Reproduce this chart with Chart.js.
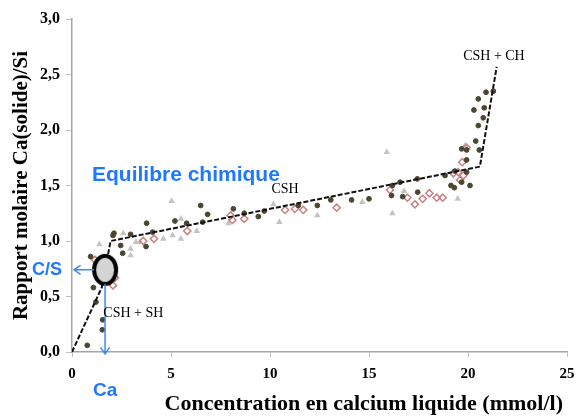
<!DOCTYPE html>
<html>
<head>
<meta charset="utf-8">
<script src="https://cdn.jsdelivr.net/npm/chart.js@4/dist/chart.umd.min.js"></script>
<style>
  html, body { margin: 0; padding: 0; background: #fff; }
  #wrap { width: 584px; height: 418px; }
</style>
</head>
<body>
<div id="wrap"><canvas id="c"></canvas></div>
<script>
// ── Données ─────────────────────────────────────────────
const xTickLabels = ['0', '5', '10', '15', '20', '25'];
const yTickLabels = ['0,0', '0,5', '1,0', '1,5', '2,0', '2,5', '3,0'];

// points noirs (ronds)
const noirsX = [0.77, 1.08, 1.21, 1.55, 1.53, 0.94, 2.07, 2.12, 2.46, 2.56, 2.96, 3.74, 3.77, 4.07, 5.2, 5.79, 6.5, 6.6, 6.85,
  8.15, 8.7, 9.41, 9.71, 11.43, 12.39, 13.07, 14.12, 15.0, 16.14, 16.18, 16.57, 16.7, 17.44, 17.46, 18.84, 19.14, 19.31,
  19.34, 19.68, 19.68, 19.93, 19.93, 19.93, 20.1, 20.39, 20.52, 20.57, 20.77, 20.3, 20.82, 20.52, 20.91, 21.28];
const noirsY = [0.06, 0.58, 0.45, 0.29, 0.20, 0.86, 1.05, 1.07, 0.96, 0.89, 1.06, 0.95, 1.16, 1.08, 1.18, 1.16, 1.32, 1.17, 1.24,
  1.29, 1.25, 1.22, 1.27, 1.32, 1.32, 1.37, 1.37, 1.38, 1.41, 1.50, 1.53, 1.40, 1.56, 1.44, 1.59, 1.50, 1.48,
  1.63, 1.53, 1.83, 1.62, 1.73, 1.82, 1.50, 1.90, 2.04, 1.82, 2.11, 2.18, 2.20, 2.28, 2.34, 2.35];

// losanges rouges (creux)
const rougesX = [1.16, 2.07, 2.17, 3.6, 4.14, 5.82, 8.01, 8.1, 8.7, 10.76, 11.26, 11.68, 13.37, 16.06, 16.94, 17.32, 17.71,
  18.05, 18.42, 18.72, 19.26, 19.51, 19.6, 19.76, 19.71, 19.93];
const rougesY = [0.83, 0.60, 0.67, 1.0, 1.02, 1.09, 1.23, 1.19, 1.20, 1.28, 1.29, 1.28, 1.30, 1.46, 1.39, 1.33, 1.38,
  1.43, 1.39, 1.39, 1.61, 1.62, 1.55, 1.59, 1.71, 1.84];

// triangles gris
const grisX = [1.38, 2.59, 2.96, 2.96, 3.23, 3.43, 4.61, 5.03, 5.08, 5.5, 5.5, 6.3, 7.9, 10.17, 10.47, 12.39, 14.66, 15.9,
  16.18, 16.77, 19.48, 19.85];
const grisY = [0.97, 1.07, 0.93, 0.87, 0.99, 0.99, 1.02, 1.36, 1.05, 1.02, 1.20, 1.09, 1.16, 1.33, 1.17, 1.23, 1.35, 1.80,
  1.25, 1.45, 1.38, 1.86];

// modèle (tirets)
const modeleX = [0, 1.5, 1.95, 20.6, 21.45];
const modeleY = [0, 0.58, 1.0, 1.67, 2.57];

// point d'équilibre (ellipse)
const equilibreX = [1.67];
const equilibreY = [0.74];

const BLEU = '#1f78ff';
const SERIF = "'Liberation Serif', 'Times New Roman', serif";
const SANS = "'Liberation Sans', Arial, sans-serif";

const zip = (xs, ys) => xs.map((x, i) => ({ x, y: ys[i] }));

// ── Ellipse grise comme pointStyle ───────────────────────
function makeEllipse() {
  const c = document.createElement('canvas');
  c.width = 28; c.height = 34;
  const g = c.getContext('2d');
  g.beginPath();
  g.ellipse(14, 17, 11, 14, 0, 0, Math.PI * 2);
  g.fillStyle = '#d4d4d4';
  g.fill();
  g.lineWidth = 4;
  g.strokeStyle = '#000';
  g.stroke();
  return c;
}

function fleche(ctx, x1, y1, x2, y2) {
  const a = Math.atan2(y2 - y1, x2 - x1);
  const L = 8, w = 0.6;
  ctx.beginPath();
  ctx.moveTo(x1, y1); ctx.lineTo(x2, y2);
  ctx.moveTo(x2 - L * Math.cos(a - w), y2 - L * Math.sin(a - w));
  ctx.lineTo(x2, y2);
  ctx.lineTo(x2 - L * Math.cos(a + w), y2 - L * Math.sin(a + w));
  ctx.stroke();
}

// ── Annotations (flèches + textes) ───────────────────────
const annotations = {
  id: 'annotations',
  afterDraw(chart) {
    const { ctx, scales: { x, y } } = chart;
    const cx = x.getPixelForValue(equilibreX[0]);
    const cy = y.getPixelForValue(equilibreY[0]);
    const x0 = x.getPixelForValue(0);
    const y0 = y.getPixelForValue(0);

    ctx.save();
    ctx.strokeStyle = '#3a8af2';
    ctx.lineWidth = 1.5;
    fleche(ctx, cx - 11, cy, x0 + 2, cy);
    fleche(ctx, cx, cy + 14, cx, y0 + 2);

    ctx.fillStyle = BLEU;
    ctx.textBaseline = 'middle';
    ctx.textAlign = 'center';
    ctx.font = `bold 18px ${SANS}`;
    ctx.fillText('C/S', x0 - 25, cy);
    ctx.font = `bold 19px ${SANS}`;
    ctx.fillText('Ca', cx, y0 + 39);
    ctx.textAlign = 'left';
    ctx.font = `bold 21px ${SANS}`;
    ctx.fillText('Equilibre chimique', x.getPixelForValue(1.01), y.getPixelForValue(1.595));

    ctx.fillStyle = '#000';
    ctx.textAlign = 'center';
    ctx.font = `14px ${SERIF}`;
    ctx.fillText('CSH', x.getPixelForValue(10.76), y.getPixelForValue(1.47));
    ctx.fillText('CSH + CH', x.getPixelForValue(21.31), y.getPixelForValue(2.66));
    ctx.fillText('CSH + SH', x.getPixelForValue(3.1), y.getPixelForValue(0.35));

    // titre de l'axe x
    ctx.textAlign = 'right';
    ctx.font = `bold 22px ${SERIF}`;
    ctx.fillText('Concentration en calcium liquide (mmol/l)', x.right - 4, y0 + 52);
    ctx.restore();
  }
};

new Chart(document.getElementById('c'), {
  type: 'scatter',
  data: {
    datasets: [
      {
        data: zip(equilibreX, equilibreY),
        pointStyle: makeEllipse(),
        pointRadius: 14,
      },
      {
        type: 'line',
        data: zip(modeleX, modeleY),
        borderColor: '#111',
        borderWidth: 2,
        borderDash: [5, 2],
        pointRadius: 0,
        fill: false,
        tension: 0,
      },
      {
        data: zip(noirsX, noirsY),
        pointStyle: 'circle',
        pointRadius: 2.4,
        backgroundColor: '#4b4632',
        borderColor: '#4b4632',
        borderWidth: 1,
      },
      {
        data: zip(rougesX, rougesY),
        pointStyle: 'rectRot',
        pointRadius: 3.6,
        backgroundColor: 'rgba(0,0,0,0)',
        borderColor: '#c98080',
        borderWidth: 1.5,
      },
      {
        data: zip(grisX, grisY),
        pointStyle: 'triangle',
        pointRadius: 3.8,
        backgroundColor: '#c3c3c3',
        borderColor: '#c3c3c3',
        borderWidth: 0,
      },
    ],
  },
  options: {
    responsive: true,
    maintainAspectRatio: false,
    animation: false,
    devicePixelRatio: 1,
    layout: { padding: { top: 19, right: 17, left: 0, bottom: 0 } },
    plugins: { legend: { display: false }, tooltip: { enabled: false } },
    scales: {
      x: {
        type: 'linear',
        min: 0, max: 25,
        afterFit: s => { s.height = 66; },
        grid: { drawOnChartArea: false, drawTicks: true, tickLength: 5, color: '#bfbfbf' },
        border: { color: '#a6a6a6', width: 1.5 },
        ticks: {
          stepSize: 5, padding: 8, color: '#000',
          font: { family: SERIF, size: 15, weight: 'bold' },
          callback: (v, i) => xTickLabels[i],
        },
      },
      y: {
        min: 0, max: 3,
        afterFit: s => { s.width = 72; },
        grid: { drawOnChartArea: false, drawTicks: true, tickLength: 6, color: '#bfbfbf' },
        border: { color: '#a6a6a6', width: 1.5 },
        ticks: {
          stepSize: 0.5, padding: 6, color: '#000',
          font: { family: SERIF, size: 16, weight: 'bold' },
          callback: (v, i) => yTickLabels[i],
        },
        title: {
          display: true,
          text: 'Rapport molaire Ca(solide)/Si',
          color: '#000', padding: { top: 9, bottom: 0 },
          font: { family: SERIF, size: 21, weight: 'bold' },
        },
      },
    },
  },
  plugins: [annotations],
});
</script>
</body>
</html>
